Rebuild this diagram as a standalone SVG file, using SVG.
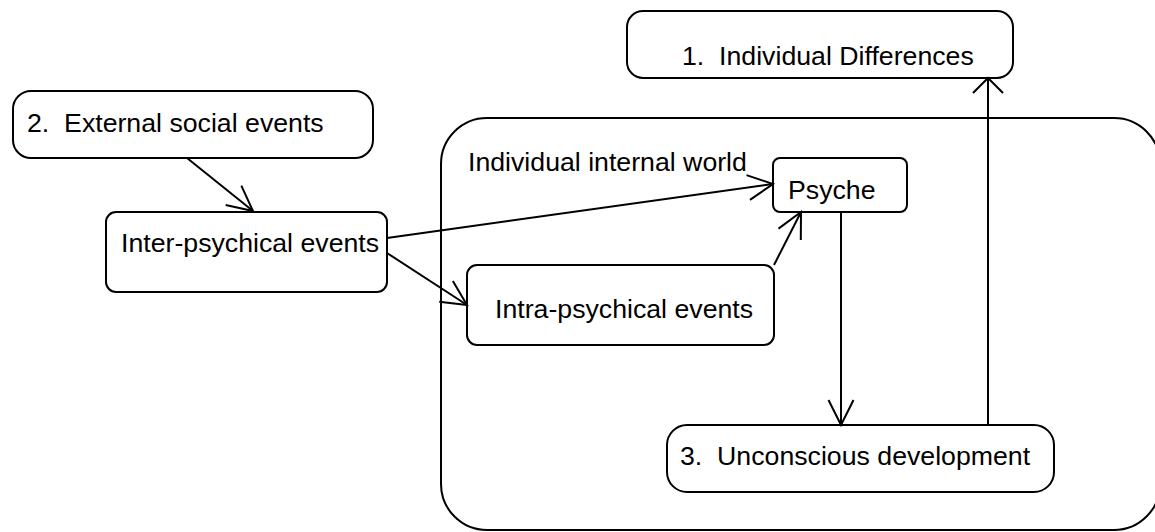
<svg xmlns="http://www.w3.org/2000/svg" width="1155" height="532" viewBox="0 0 1155 532">
<style>
.box{fill:#fff;stroke:#000;stroke-width:2}
.cont{fill:none;stroke:#000;stroke-width:2}
.lbl{font-family:"Liberation Sans",Arial,sans-serif;font-size:26.7px;fill:#000;white-space:pre}
.con{stroke:#000;stroke-width:2;fill:none}
</style>
<defs>
<marker id="arr" markerUnits="userSpaceOnUse" orient="auto" markerWidth="60" markerHeight="60" refX="0" refY="0" overflow="visible">
<path d="M-25,-12.5 L0,0 L-25,12.5" fill="none" stroke="#000" stroke-width="2"/>
</marker>
<marker id="arr2" markerUnits="userSpaceOnUse" orient="auto" markerWidth="60" markerHeight="60" refX="0" refY="0" overflow="visible">
<path d="M-15,-15 L0,0 L-15,15" fill="none" stroke="#000" stroke-width="2"/>
</marker>
</defs>
<rect width="1155" height="532" fill="#fff"/>
<g id="container">
<rect class="cont" x="441" y="118" width="719" height="412" rx="46" ry="46"/>
<text class="lbl" x="468" y="171">Individual internal world</text>
</g>
<g id="individual-differences">
<rect class="box" x="627" y="11" width="386" height="67" rx="16"/>
<text class="lbl" x="682" y="65" xml:space="preserve">1.  Individual Differences</text>
</g>
<g id="external-social-events">
<rect class="box" x="13" y="91" width="360" height="67" rx="18"/>
<text class="lbl" x="27" y="132" xml:space="preserve">2.  External social events</text>
</g>
<g id="inter-psychical">
<rect class="box" x="106" y="212" width="281" height="80" rx="10"/>
<text class="lbl" x="121" y="252">Inter-psychical events</text>
</g>
<g id="psyche">
<rect class="box" x="773" y="158" width="134" height="54" rx="7"/>
<text class="lbl" x="788" y="199">Psyche</text>
</g>
<g id="intra-psychical">
<rect class="box" x="467" y="265" width="307" height="80" rx="10"/>
<text class="lbl" x="495" y="318">Intra-psychical events</text>
</g>
<g id="unconscious-development">
<rect class="box" x="667" y="425" width="387" height="67" rx="20"/>
<text class="lbl" x="680" y="465" xml:space="preserve">3.  Unconscious development</text>
</g>
<g id="connectors">
<line class="con" x1="187" y1="158" x2="253" y2="211" marker-end="url(#arr)"/>
<line class="con" x1="387" y1="238" x2="773" y2="184" marker-end="url(#arr)"/>
<line class="con" x1="387" y1="253" x2="467" y2="305" marker-end="url(#arr)"/>
<line class="con" x1="774" y1="265" x2="801" y2="212" marker-end="url(#arr)"/>
<line class="con" x1="841" y1="212" x2="841" y2="425" marker-end="url(#arr)"/>
<line class="con" x1="988" y1="425" x2="988" y2="78" marker-end="url(#arr2)"/>
</g>
</svg>
